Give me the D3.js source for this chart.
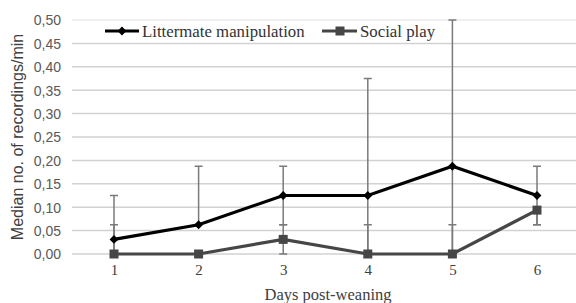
<!DOCTYPE html>
<html><head><meta charset="utf-8">
<script src="https://cdn.jsdelivr.net/npm/d3@7"></script>
<style>body{margin:0;background:#fff}svg{display:block}</style>
</head><body><svg id="c" width="576" height="303"></svg>
<script>
const days = [1,2,3,4,5,6];
const yTicks = [0,0.05,0.10,0.15,0.20,0.25,0.30,0.35,0.40,0.45,0.50];
const littermate = [0.03125,0.0625,0.125,0.125,0.1875,0.125];
const littermateUpper = [0.125,0.1875,0.1875,0.375,0.5,0.1875];
const littermateLower = [0,0.0625,0.0625,0,0,0.0625];
const social = [0,0,0.03125,0,0,0.09375];
const socialUpper = [0.0625,0,0.0625,0.0625,0.0625,0.09375];
const socialLower = [0,0,0,0,0,0.0625];
const seriesNames = ["Littermate manipulation","Social play"];

const svg = d3.select("#c");
const x = d3.scalePoint().domain(days).range([114,537]);
const y = d3.scaleLinear().domain([0,0.5]).range([254,20]);
const fmt = d => d.toFixed(2).replace(".", ",");
const serif = "Liberation Serif, Times New Roman, serif";
const sans = "Liberation Sans, Arial, sans-serif";

// grid
svg.append("g").selectAll("line").data(yTicks).join("line")
  .attr("x1",72).attr("x2",576).attr("y1",d=>y(d)).attr("y2",d=>y(d))
  .attr("stroke",d=>d===0.5?"#ebebeb":"#d2d2d2").attr("stroke-width",1.5);

// y axis labels
const yAxis = d3.axisLeft(y).tickValues(yTicks).tickFormat(fmt).tickSize(0).tickPadding(0);
const ya = svg.append("g").attr("transform","translate(61,0)").call(yAxis);
ya.select(".domain").remove();
ya.selectAll("text").attr("font-family",sans).attr("font-size",14).attr("fill","#595959").attr("dy","0.35em");

// x axis labels
const xAxis = d3.axisBottom(x).tickSize(0).tickPadding(0);
const xa = svg.append("g").attr("transform","translate(0,264)").call(xAxis);
xa.select(".domain").remove();
xa.selectAll("text").attr("font-family",serif).attr("font-size",15).attr("fill","#404040").attr("dy","0.7em");

// titles
svg.append("text").attr("transform","translate(23,137) rotate(-90)").attr("text-anchor","middle")
  .attr("font-family",sans).attr("font-size",16).attr("fill","#404040")
  .text("Median no. of recordings/min");
svg.append("text").attr("x",328).attr("y",300).attr("text-anchor","middle")
  .attr("font-family",serif).attr("font-size",16.5).attr("fill","#404040")
  .text("Days post-weaning");

// error bars
function errBars(vals, lo, hi){
  const g = svg.append("g").attr("stroke","#7a7a7a").attr("stroke-width",1.5);
  days.forEach((d,i)=>{
    if (hi[i] > vals[i]) {
      g.append("line").attr("x1",x(d)).attr("x2",x(d)).attr("y1",y(vals[i])).attr("y2",y(hi[i]));
      g.append("line").attr("x1",x(d)-4).attr("x2",x(d)+4).attr("y1",y(hi[i])).attr("y2",y(hi[i]));
    }
    if (lo[i] < vals[i]) {
      g.append("line").attr("x1",x(d)).attr("x2",x(d)).attr("y1",y(lo[i])).attr("y2",y(vals[i]));
      g.append("line").attr("x1",x(d)-4).attr("x2",x(d)+4).attr("y1",y(lo[i])).attr("y2",y(lo[i]));
    }
  });
}
errBars(littermate, littermateLower, littermateUpper);
errBars(social, socialLower, socialUpper);

const line = d3.line().x((d,i)=>x(days[i])).y(d=>y(d));
// social line
svg.append("path").attr("d",line(social)).attr("fill","none").attr("stroke","#464646").attr("stroke-width",3.2);
svg.append("g").selectAll("rect").data(social).join("rect")
  .attr("x",(d,i)=>x(days[i])-4.5).attr("y",d=>y(d)-4.5).attr("width",9).attr("height",9).attr("fill","#464646");
// littermate line
svg.append("path").attr("d",line(littermate)).attr("fill","none").attr("stroke","#000").attr("stroke-width",3.2);
const diamond = d3.symbol().type(d3.symbolDiamond2).size(50);
svg.append("g").selectAll("path").data(littermate).join("path")
  .attr("transform",(d,i)=>`translate(${x(days[i])},${y(d)})`).attr("d",diamond).attr("fill","#000");

// legend
const lg = svg.append("g");
lg.append("line").attr("x1",105).attr("x2",139).attr("y1",31).attr("y2",31).attr("stroke","#000").attr("stroke-width",3.2);
lg.append("path").attr("transform","translate(122,31)").attr("d",diamond).attr("fill","#000");
lg.append("text").attr("x",142).attr("y",36.5).attr("font-family",serif).attr("font-size",16.8).attr("fill","#333").text(seriesNames[0]);
lg.append("line").attr("x1",322).attr("x2",357).attr("y1",31).attr("y2",31).attr("stroke","#464646").attr("stroke-width",3.2);
lg.append("rect").attr("x",335.5).attr("y",26.5).attr("width",9).attr("height",9).attr("fill","#464646");
lg.append("text").attr("x",360).attr("y",36.5).attr("font-family",serif).attr("font-size",16.8).attr("fill","#333").text(seriesNames[1]);
</script></body></html>
